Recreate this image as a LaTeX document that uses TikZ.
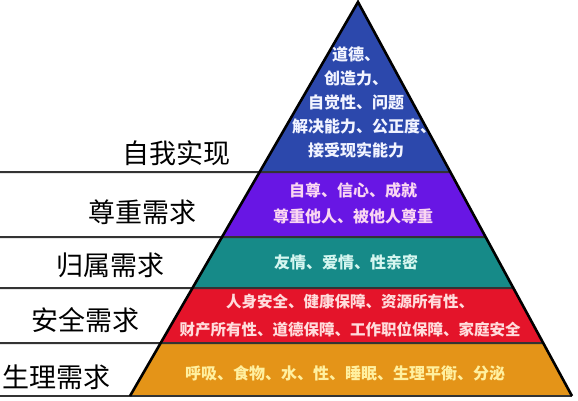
\documentclass[tikz,border=0pt]{standalone}
\usepackage{fontspec}
\setmainfont{Noto Sans CJK SC}
\usetikzlibrary{calc}
\definecolor{cBlue}{RGB}{44,72,172}
\definecolor{cPurple}{RGB}{104,22,228}
\definecolor{cTeal}{RGB}{22,138,136}
\definecolor{cRed}{RGB}{228,20,42}
\definecolor{cOrange}{RGB}{228,148,24}
\definecolor{tBlue}{RGB}{242,244,255}
\definecolor{tPurple}{RGB}{250,214,242}
\definecolor{tTeal}{RGB}{214,246,240}
\definecolor{tRed}{RGB}{255,220,220}
\definecolor{tOrange}{RGB}{255,240,160}
\begin{document}
\begin{tikzpicture}[x=1pt,y=-1pt,
  lbl/.style={font=\fontsize{27}{27}\selectfont, text=black, inner sep=0pt},
  band/.style={font=\bfseries\fontsize{16}{24}\selectfont, align=center, inner sep=0pt},
  sep/.style={draw=black!80, line width=2pt},
  edge/.style={draw=black, line width=2.6pt, line join=miter}]
\fill[white] (0,0) rectangle (578,400);
\useasboundingbox (0,0) rectangle (578,400);
\coordinate (apex) at (358,2);
\coordinate (bl) at (130,396);
\coordinate (br) at (572,396);
\foreach \n/\y in {a/172,b/237,c/288,d/343}{
  \coordinate (L\n) at ($(apex)!{(\y-2)/394}!(bl)$);
  \coordinate (R\n) at ($(apex)!{(\y-2)/394}!(br)$);
  \coordinate (O\n) at (0,\y);
}
\coordinate (Oe) at (0,396);
\fill[cBlue] (apex) -- (Ra) -- (La) -- cycle;
\fill[cPurple] (La) -- (Ra) -- (Rb) -- (Lb) -- cycle;
\fill[cTeal] (Lb) -- (Rb) -- (Rc) -- (Lc) -- cycle;
\fill[cRed] (Lc) -- (Rc) -- (Rd) -- (Ld) -- cycle;
\fill[cOrange] (Ld) -- (Rd) -- (br) -- (bl) -- cycle;
\foreach \n in {a,b,c,d}{ \draw[sep] (O\n) -- (R\n); }
\draw[sep] (Oe) -- (br);
\draw[edge] (bl) -- (apex) -- (br);
% band texts
\node[band, text=tBlue] (t1) at (356,102.5) {道德、\\创造力、\\自觉性、问题\\\hspace*{16pt}解决能力、公正度、\\接受现实能力};
\node[band, text=tPurple, font=\bfseries\fontsize{16}{26}\selectfont] (t2) at (353,203) {自尊、信心、成就\\尊重他人、被他人尊重};
\node[band, text=tTeal] (t3) at (346,262) {友情、爱情、性亲密};
\node[band, text=tRed, font=\bfseries\fontsize{15.5}{28}\selectfont] (t4) at (350,316) {人身安全、健康保障、资源所有性、\\财产所有性、道德保障、工作职位保障、家庭安全};
\node[band, text=tOrange] (t5) at (345,373) {呼吸、食物、水、性、睡眠、生理平衡、分泌};
% left labels
\node[lbl] (l1) at (176,153) {自我实现};
\node[lbl] (l2) at (142,212) {尊重需求};
\node[lbl] (l3) at (110,265) {归属需求};
\node[lbl] (l4) at (85,320) {安全需求};
\node[lbl] (l5) at (56,377) {生理需求};
\end{tikzpicture}
\end{document}
